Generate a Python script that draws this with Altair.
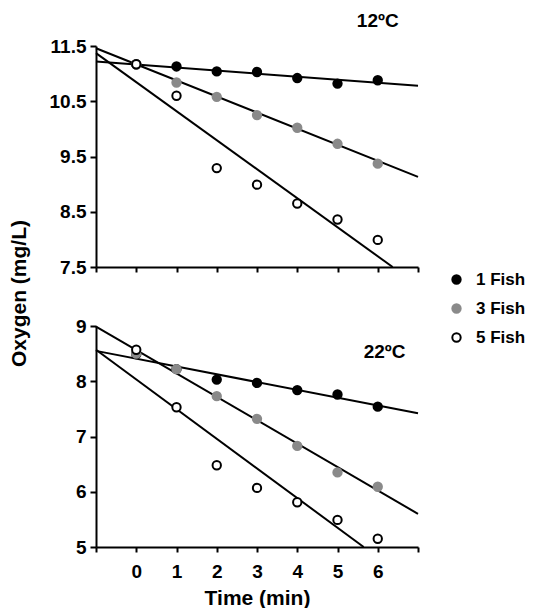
import altair as alt
import pandas as pd

FONT = "Liberation Sans"

times = [0, 1, 2, 3, 4, 5, 6]
groups = ["1 Fish", "3 Fish", "5 Fish"]

# 12 C panel
top_1 = [11.17, 11.13, 11.04, 11.03, 10.92, 10.82, 10.88]
top_3 = [11.17, 10.84, 10.58, 10.25, 10.02, 9.73, 9.37]
top_5 = [11.17, 10.60, 9.29, 8.99, 8.65, 8.36, 7.99]
# 22 C panel
bot_1 = [8.49, 8.22, 8.03, 7.97, 7.84, 7.76, 7.54]
bot_3 = [8.50, 8.22, 7.73, 7.32, 6.83, 6.35, 6.09]
bot_5 = [8.57, 7.53, 6.48, 6.07, 5.81, 5.49, 5.15]

# fitted regression lines (start/end points)
top_fit_x0 = [-1, -1, -1]
top_fit_x1 = [7, 7, 6.37]
top_fit_y0 = [11.22, 11.46, 11.37]
top_fit_y1 = [10.78, 9.13, 7.5]
bot_fit_x0 = [-1, -1, -1]
bot_fit_x1 = [7, 7, 5.65]
bot_fit_y0 = [8.55, 8.99, 8.57]
bot_fit_y1 = [7.42, 5.60, 5.0]

panel_labels = ["12ºC", "22ºC"]
label_x = [6.0, 6.17]
label_y = [11.96, 8.53]

top_ticks = [7.5, 7.75, 8.0, 8.25, 8.5, 8.75, 9.0, 9.25, 9.5, 9.75, 10.0,
             10.25, 10.5, 10.75, 11.0, 11.25, 11.5]
bot_ticks = [5.0, 5.25, 5.5, 5.75, 6.0, 6.25, 6.5, 6.75, 7.0, 7.25, 7.5,
             7.75, 8.0, 8.25, 8.5, 8.75, 9.0]
x_ticks = [-1, 0, 1, 2, 3, 4, 5, 6, 7]


def points_df(series):
    rows = []
    for g, vals in zip(groups, series):
        for t, v in zip(times, vals):
            rows.append({"group": g, "time": t, "oxygen": v})
    return pd.DataFrame(rows)


def fits_df(x0, x1, y0, y1):
    return pd.DataFrame({"group": groups, "x0": x0, "x1": x1, "y0": y0, "y1": y1})


fill_scale = alt.Scale(domain=groups, range=["black", "#8a8a8a", "white"])
stroke_scale = alt.Scale(domain=groups, range=["black", "#8a8a8a", "black"])
size_scale = alt.Scale(domain=groups, range=[70, 70, 38])

legend = alt.Legend(
    title=None, orient="none", legendX=352, legendY=225,
    labelFont=FONT, labelFontSize=17, labelFontWeight="bold", labelColor="black",
    labelOffset=11, rowPadding=11, symbolStrokeWidth=2,
)


def panel(series, fits, ticks, domain, major_test, fmt, label, show_x_labels, show_title):
    x_axis = alt.Axis(
        values=x_ticks, title="Time (min)" if show_x_labels else None,
        labelExpr="(datum.value >= 0 && datum.value <= 6) ? datum.label : ''" if show_x_labels else "''",
        labels=show_x_labels, grid=False, tickSize=5, tickWidth=2, domainWidth=2,
        domainColor="black", tickColor="black", labelFont=FONT, labelFontSize=19,
        labelFontWeight="bold", labelColor="black", labelPadding=10,
        titleFont=FONT, titleFontSize=21, titleFontWeight="bold", titleColor="black",
        titlePadding=6,
    )
    y_kwargs = dict(
        values=ticks, grid=False, format=fmt,
        labelExpr=f"({major_test}) ? datum.label : ''",
        tickSize={"condition": {"test": major_test, "value": 6}, "value": 3},
        tickWidth=2, domainWidth=2, domainColor="black", tickColor="black",
        labelFont=FONT, labelFontSize=19, labelFontWeight="bold", labelColor="black",
        labelPadding=4,
    )
    if show_title:
        y_axis = alt.Axis(
            title="Oxygen (mg/L)", titleFont=FONT, titleFontSize=21,
            titleFontWeight="bold", titleColor="black", titleAngle=-90,
            titleX=-77, titleY=247, titleAlign="center", titleBaseline="middle",
            **y_kwargs,
        )
    else:
        y_axis = alt.Axis(title=None, **y_kwargs)

    xs = alt.Scale(domain=[-1, 7], nice=False, zero=False)
    ys = alt.Scale(domain=domain, nice=False, zero=False)

    lines = alt.Chart(fits).mark_rule(color="black", strokeWidth=2).encode(
        x=alt.X("x0:Q", scale=xs, axis=x_axis),
        x2="x1:Q",
        y=alt.Y("y0:Q", scale=ys, axis=y_axis),
        y2="y1:Q",
    )
    pts = alt.Chart(series).mark_point(shape="circle", filled=False, opacity=1, strokeWidth=2).encode(
        x=alt.X("time:Q", scale=xs),
        y=alt.Y("oxygen:Q", scale=ys),
        fill=alt.Fill("group:N", scale=fill_scale, legend=legend),
        stroke=alt.Stroke("group:N", scale=stroke_scale, legend=legend),
        size=alt.Size("group:N", scale=size_scale, legend=legend),
    )
    txt = alt.Chart(pd.DataFrame({"t": [label[0]], "x": [label[1]], "y": [label[2]]})).mark_text(
        font=FONT, fontSize=19, fontWeight="bold", color="black", align="center", baseline="middle"
    ).encode(x=alt.X("x:Q", scale=xs), y=alt.Y("y:Q", scale=ys), text="t:N")
    return alt.layer(lines, pts, txt).properties(width=322, height=221)


top = panel(points_df([top_1, top_3, top_5]),
            fits_df(top_fit_x0, top_fit_x1, top_fit_y0, top_fit_y1),
            top_ticks, [7.5, 11.5], "round(datum.value*4) % 4 == 2", ".1f",
            (panel_labels[0], label_x[0], label_y[0]), False, True)
bottom = panel(points_df([bot_1, bot_3, bot_5]),
               fits_df(bot_fit_x0, bot_fit_x1, bot_fit_y0, bot_fit_y1),
               bot_ticks, [5, 9], "round(datum.value*4) % 4 == 0", ".0f",
               (panel_labels[1], label_x[1], label_y[1]), True, False)

chart = alt.vconcat(top, bottom, spacing=59, bounds="flush").resolve_scale(
    x="independent", y="independent", fill="shared", stroke="shared", size="shared"
).properties(padding={"left": 0, "top": 3, "right": 0, "bottom": 0}).configure_view(stroke=None)

chart.save("out.html", embed_options={"renderer": "svg", "actions": False})
